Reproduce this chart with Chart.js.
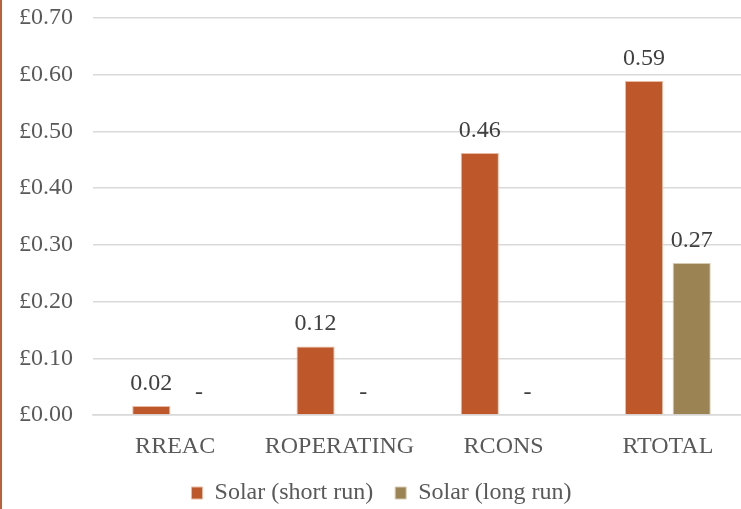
<!DOCTYPE html>
<html lang="en">
<head>
    <meta charset="UTF-8">
    <title>Solar costs</title>
    <script src="https://cdn.jsdelivr.net/npm/chart.js"></script>
    <style>
        html, body { margin: 0; padding: 0; background: #fff; overflow: hidden; }
        #wrap { position: relative; width: 741px; height: 509px; overflow: hidden; border-left: 2px solid #C0603A; box-sizing: border-box; }
        #wrap canvas { position: absolute; left: 0; top: 0; }
    </style>
</head>
<body>
    <div id="wrap"><canvas id="costChart" width="748" height="515"></canvas></div>

    <script>
        const categories = ["RREAC", "ROPERATING", "RCONS", "RTOTAL"];
        const shortRun = [0.016, 0.121, 0.462, 0.589];
        const longRun = [0, 0, 0, 0.268];
        const seriesNames = ["Solar (short run)", "Solar (long run)"];
        const yTicks = [0, 0.1, 0.2, 0.3, 0.4, 0.5, 0.6, 0.7];

        const serif = "'Liberation Serif', 'Times New Roman', serif";

        // value above each bar, "-" when zero
        const barLabels = {
            id: 'barLabels',
            afterDatasetsDraw(chart) {
                const ctx = chart.ctx;
                ctx.save();
                ctx.font = "24px " + serif;
                ctx.fillStyle = "#404040";
                ctx.textAlign = "center";
                ctx.textBaseline = "alphabetic";
                chart.data.datasets.forEach((ds, i) => {
                    chart.getDatasetMeta(i).data.forEach((bar, j) => {
                        const v = ds.data[j];
                        const txt = v === 0 ? "-" : v.toFixed(2);
                        ctx.fillText(txt, bar.x, bar.y - 16);
                    });
                });
                ctx.restore();
            }
        };

        new Chart(document.getElementById("costChart").getContext("2d"), {
            type: 'bar',
            data: {
                labels: categories,
                datasets: [
                    { label: seriesNames[0], data: shortRun, backgroundColor: "#BE582B", borderColor: "#E9B9A3", borderWidth: 1 },
                    { label: seriesNames[1], data: longRun, backgroundColor: "#9C8354", borderColor: "#D7CBB4", borderWidth: 1 }
                ]
            },
            options: {
                responsive: false,
                animation: false,
                categoryPercentage: 0.58,
                barPercentage: 0.8,
                layout: { padding: { left: 11, right: 0, top: 0, bottom: 0 } },
                plugins: {
                    tooltip: { enabled: false },
                    legend: {
                        position: 'bottom',
                        labels: {
                            font: { family: serif, size: 24 },
                            color: "#595959",
                            boxWidth: 11,
                            boxHeight: 12,
                            padding: 22
                        }
                    }
                },
                scales: {
                    x: {
                        grid: { drawOnChartArea: false, tickLength: 20, tickColor: "rgba(0,0,0,0)" },
                        border: { color: "#D9D9D9", width: 1.5 },
                        ticks: { font: { family: serif, size: 24, lineHeight: 1 }, color: "#595959", padding: 0 }
                    },
                    y: {
                        min: 0,
                        max: 0.7,
                        afterBuildTicks: axis => { axis.ticks = yTicks.map(v => ({ value: v })); },
                        grid: { color: "#D9D9D9", lineWidth: 1.5, tickLength: 14, tickColor: "rgba(0,0,0,0)" },
                        border: { display: false },
                        ticks: {
                            font: { family: serif, size: 24, lineHeight: 1 },
                            color: "#595959",
                            padding: 6,
                            callback: v => "£" + v.toFixed(2)
                        }
                    }
                }
            },
            plugins: [barLabels]
        });
    </script>
</body>
</html>
